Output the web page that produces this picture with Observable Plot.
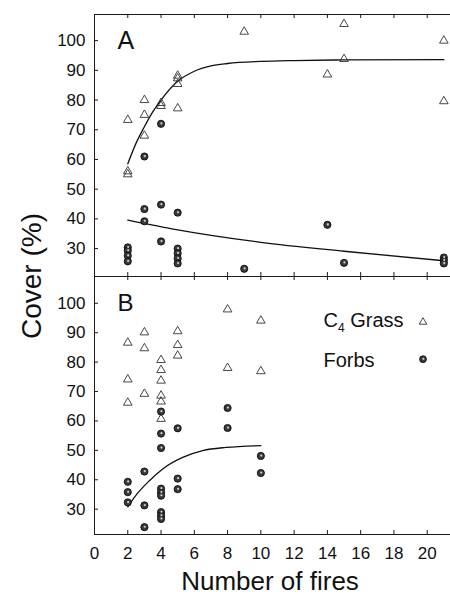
<!DOCTYPE html>
<html>
<head>
<meta charset="utf-8">
<script src="https://cdn.jsdelivr.net/npm/d3@7"></script>
<script src="https://cdn.jsdelivr.net/npm/@observablehq/plot@0.6"></script>
<style>
  html, body { margin: 0; padding: 0; background: #fff; }
  #chart { position: relative; width: 450px; height: 596px; overflow: hidden;
           font-family: "Liberation Sans", Arial, sans-serif; color: #111; }
  #chart svg { position: absolute; left: 0; display: block; background: transparent; }
  #ylab { position: absolute; left: 32px; top: 276px; transform: translate(-50%, -50%) rotate(-90deg);
          font-size: 28px; white-space: nowrap; line-height: 1; }
</style>
</head>
<body>
<div id="chart"><div id="ylab"></div></div>
<script>
// ---------- data ----------
const xTicks = [0, 2, 4, 6, 8, 10, 12, 14, 16, 18, 20];
const yTicks = [30, 40, 50, 60, 70, 80, 90, 100];
const xLabel = "Number of fires";
const yLabel = "Cover (%)";
const panelLabels = ["A", "B"];
const legendLabels = ["C4 Grass", "Forbs"];

// Panel A
const grassAFires = [2, 2, 2, 3, 3, 3, 4, 4, 5, 5, 5, 5, 9, 14, 15, 15, 21, 21];
const grassACover = [73.3, 56, 55, 80, 75, 68, 79, 78, 88.2, 87.3, 85.4, 77.2, 103, 88.6, 105.6, 93.8, 100, 79.6];
const forbsAFires = [2, 2, 2, 2, 3, 3, 3, 4, 4, 4, 5, 5, 5, 5, 5, 9, 14, 15, 21, 21, 21];
const forbsACover = [30.4, 29.3, 27.6, 25.7, 61, 43.3, 39.2, 72, 44.8, 32.4, 42.1, 30, 28.4, 26.7, 25, 23.2, 38, 25.2, 27, 26, 25];
const fitGrassAFires = [2, 2.5, 3, 3.5, 4, 5, 6, 7, 8, 10, 12, 15, 21];
const fitGrassACover = [58.5, 65.5, 71, 76, 80, 86.3, 89.7, 91.5, 92.3, 93.0, 93.3, 93.5, 93.6];
const fitForbsAFires = [2, 5, 10, 15, 21];
const fitForbsACover = [39.6, 36.3, 32.1, 29.1, 25.9];

// Panel B
const grassBFires = [2, 2, 2, 3, 3, 3, 4, 4, 4, 4, 4, 4, 5, 5, 5, 8, 8, 10, 10];
const grassBCover = [86.6, 74.1, 66.2, 90.1, 84.7, 69.2, 80.7, 77.3, 73.7, 68.6, 66.6, 60.7, 90.5, 85.8, 82.2, 97.9, 78.0, 94.1, 76.9];
const forbsBFires = [2, 2, 2, 3, 3, 3, 4, 4, 4, 4, 4, 4, 4, 4, 4, 5, 5, 5, 8, 8, 10, 10];
const forbsBCover = [39.3, 35.8, 32.3, 42.8, 31.3, 23.9, 63.2, 55.7, 50.8, 37, 35.7, 34.6, 29, 27.8, 26.7, 57.5, 40.4, 36.8, 64.4, 57.6, 48.1, 42.3];
const fitForbsBFires = [2, 2.5, 3.3, 4.1, 5.3, 6.5, 7.9, 10];
const fitForbsBCover = [30.8, 34.8, 39.7, 43.7, 47.6, 49.9, 51, 51.6];

// ---------- helpers ----------
const zipXY = (xs, ys) => xs.map((x, i) => ({x, y: ys[i]}));
const W = 450, ML = 94;
const frameW = W - ML;
const ink = "#1a1a1a";
const font = "'Liberation Sans', Arial, sans-serif";

function panel({label, grass, forbs, fits, yDomain, height, marginTop, marginBottom, bottom, legend}) {
  const frameH = height - marginTop - marginBottom;
  const inner = xTicks.slice(1);
  const marks = [
    Plot.frame({stroke: ink, strokeWidth: 1, insetRight: -4}),
    Plot.tickX(inner, {x: d => d, insetTop: frameH - 4, stroke: ink}),
    Plot.tickX(inner, {x: d => d, insetBottom: frameH - 4, stroke: ink}),
    Plot.tickY(yTicks, {y: d => d, insetRight: frameW - 4, stroke: ink}),
    Plot.axisY(yTicks, {tickSize: 0, tickPadding: 9, fontSize: 17, label: null}),
    ...fits.map(f => Plot.line(f, {x: "x", y: "y", curve: "monotone-x", stroke: "#111", strokeWidth: 1.3})),
    Plot.dot(grass, {x: "x", y: "y", symbol: "triangle", r: 3.2, stroke: "#333", strokeWidth: 0.9, fill: "none"}),
    Plot.dot(forbs, {x: "x", y: "y", r: 3.6, fill: "#3a3a3a", stroke: "#000", strokeWidth: 0.8}),
    Plot.dot(forbs, {x: "x", y: "y", r: 1.1, fill: "#cfcfcf", stroke: null, dx: 0.4, dy: -0.4}),
    Plot.text([label.text], {frameAnchor: "top-left", textAnchor: "start", lineAnchor: "bottom",
      dx: label.dx, dy: label.dy, fontSize: label.size, fill: "#111"})
  ];
  if (bottom) {
    marks.push(
      Plot.axisX(xTicks, {tickSize: 0, tickPadding: 12, fontSize: 17, label: null}),
      Plot.text([xLabel], {frameAnchor: "bottom", lineAnchor: "bottom", dx: -2.5, dy: 55.5, fontSize: 26, fill: "#111"})
    );
  }
  if (legend) {
    marks.push(
      Plot.text([legendLabels[0]], {frameAnchor: "top-left", textAnchor: "start", lineAnchor: "bottom", dx: 229, dy: 50.7, fontSize: 20, fill: "#111"}),
      Plot.text([legendLabels[1]], {frameAnchor: "top-left", textAnchor: "start", lineAnchor: "bottom", dx: 229, dy: 90, fontSize: 20, fill: "#111"}),
      Plot.dot([legendLabels[0]], {frameAnchor: "top-left", dx: 328.5, dy: 45.5, symbol: "triangle", r: 2.8, stroke: "#333", strokeWidth: 0.9, fill: "none"}),
      Plot.dot([legendLabels[1]], {frameAnchor: "top-left", dx: 328.5, dy: 82.7, r: 3.4, fill: "#3a3a3a", stroke: "#000", strokeWidth: 0.8}),
      Plot.dot([legendLabels[1]], {frameAnchor: "top-left", dx: 328.9, dy: 82.3, r: 1.1, fill: "#cfcfcf", stroke: null})
    );
  }
  return Plot.plot({
    width: W, height, marginTop, marginBottom, marginLeft: ML, marginRight: 0,
    style: {fontFamily: font, background: "transparent", color: "#111", overflow: "visible"},
    x: {domain: [0, 21.4], axis: null},
    y: {domain: yDomain, axis: null},
    marks
  });
}

const chart = document.getElementById("chart");
document.getElementById("ylab").textContent = yLabel;

const plotA = panel({
  label: {text: panelLabels[0], dx: 23, dy: 34, size: 25},
  grass: zipXY(grassAFires, grassACover),
  forbs: zipXY(forbsAFires, forbsACover),
  fits: [zipXY(fitGrassAFires, fitGrassACover), zipXY(fitForbsAFires, fitForbsACover)],
  yDomain: [20.6, 108.8], height: 277, marginTop: 14, marginBottom: 1, bottom: false, legend: false
});
plotA.style.top = "0px";

const plotB = panel({
  label: {text: panelLabels[1], dx: 23, dy: 34, size: 24},
  grass: zipXY(grassBFires, grassBCover),
  forbs: zipXY(forbsBFires, forbsBCover),
  fits: [zipXY(fitForbsBFires, fitForbsBCover)],
  yDomain: [21.4, 109.1], height: 320, marginTop: 0, marginBottom: 62, bottom: true, legend: true
});
plotB.style.top = "276px";

chart.appendChild(plotB);
chart.appendChild(plotA);

// subscript "4" in the legend label
plotB.querySelectorAll("text").forEach(t => {
  if (t.textContent === legendLabels[0]) {
    const ns = "http://www.w3.org/2000/svg";
    t.textContent = "";
    t.appendChild(document.createTextNode("C"));
    const sub = document.createElementNS(ns, "tspan");
    sub.setAttribute("dy", "5"); sub.setAttribute("font-size", "12");
    sub.textContent = "4";
    const rest = document.createElementNS(ns, "tspan");
    rest.setAttribute("dy", "-5");
    rest.textContent = " Grass";
    t.appendChild(sub); t.appendChild(rest);
  }
});
</script>
</body>
</html>
